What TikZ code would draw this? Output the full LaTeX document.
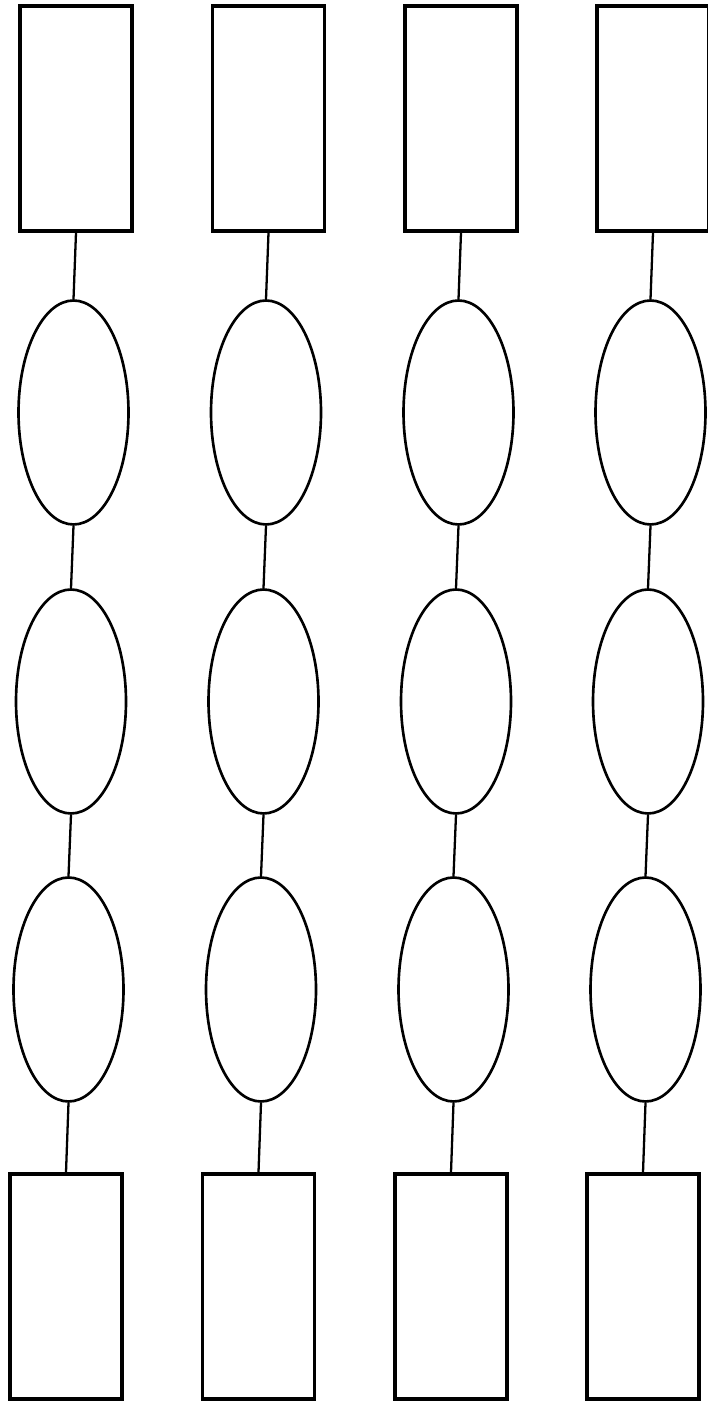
\documentclass[tikz,border=0pt]{standalone}
\usepackage{tikz}
\usetikzlibrary{shapes.geometric}

\begin{document}
\begin{tikzpicture}[
          card/.style={rectangle, draw, line width=2pt, minimum width=2.24cm,
                       minimum height=4.5cm, inner sep=0pt},
          oval/.style={ellipse, draw, line width=1.5pt, minimum width=2.2cm,
                       minimum height=4.48cm, inner sep=0pt},
          link/.style={line width=1.3pt}
        ]
        \useasboundingbox (0,0) rectangle (14.14,28.12);

        \foreach \c/\x in {1/1.52, 2/5.37, 3/9.22, 4/13.06} {
          % Top card
          \node[card] (top\c) at (\x, 25.75) {};

          % Three ovals
          \node[oval] (ova\c) at (\x-0.05, 19.87) {};
          \node[oval] (ovb\c) at (\x-0.10, 14.09) {};
          \node[oval] (ovc\c) at (\x-0.15, 8.33) {};

          % Bottom card
          \node[card] (bot\c) at (\x-0.20, 2.39) {};

          \draw[link] (top\c.south)--(ova\c.north);
          \draw[link] (ova\c.south)--(ovb\c.north);
          \draw[link] (ovb\c.south)--(ovc\c.north);
          \draw[link] (ovc\c.south)--(bot\c.north);
        }
      \end{tikzpicture}
\end{document}
